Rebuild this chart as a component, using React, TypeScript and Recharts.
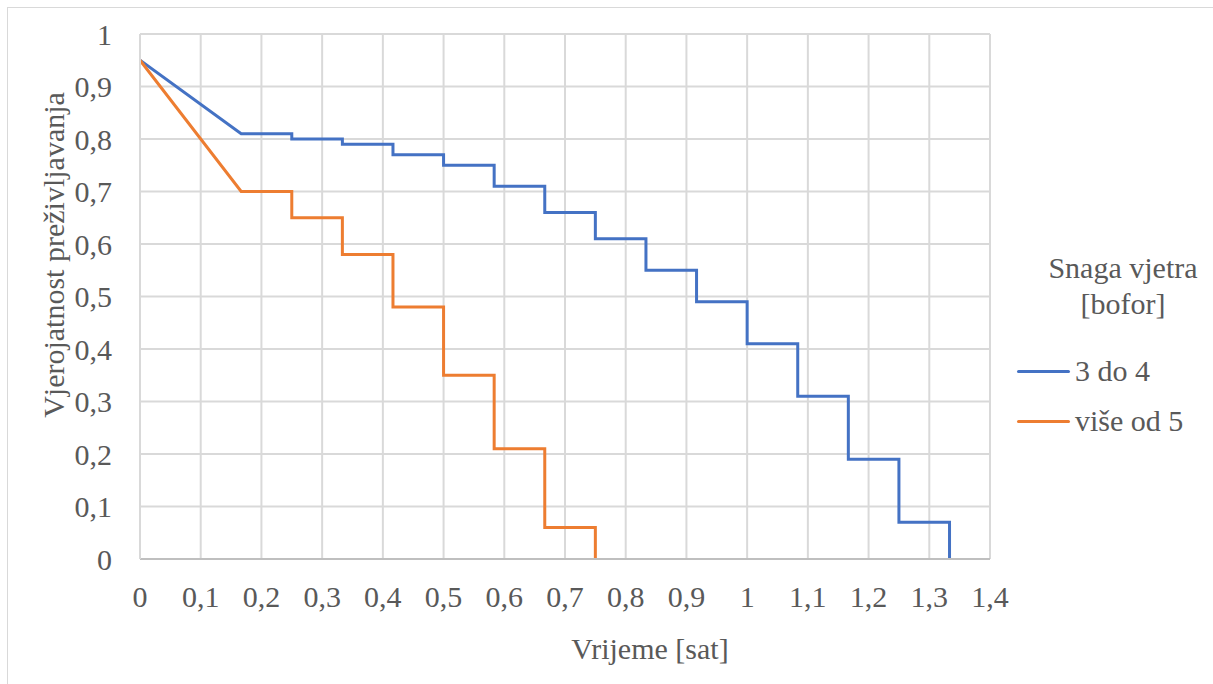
import React from 'react';
import { LineChart, Line, XAxis, YAxis, CartesianGrid, Label } from 'recharts';

// Step times (hours) and survival probabilities
const blueTimes = [0, 1 / 6, 0.25, 1 / 3, 5 / 12, 0.5, 7 / 12, 2 / 3, 0.75, 5 / 6, 11 / 12, 1, 13 / 12, 7 / 6, 1.25, 4 / 3];
const blueValues = [0.95, 0.81, 0.80, 0.79, 0.77, 0.75, 0.71, 0.66, 0.61, 0.55, 0.49, 0.41, 0.31, 0.19, 0.07, 0];
const orangeTimes = [0, 1 / 6, 0.25, 1 / 3, 5 / 12, 0.5, 7 / 12, 2 / 3, 0.75];
const orangeValues = [0.95, 0.70, 0.65, 0.58, 0.48, 0.35, 0.21, 0.06, 0];

const xTicks = [0, 0.1, 0.2, 0.3, 0.4, 0.5, 0.6, 0.7, 0.8, 0.9, 1, 1.1, 1.2, 1.3, 1.4];
const yTicks = [0, 0.1, 0.2, 0.3, 0.4, 0.5, 0.6, 0.7, 0.8, 0.9, 1];

const seriesNames = ['3 do 4', 'više od 5'];
const seriesColors = ['#4472C4', '#ED7D31'];
const legendTitle = ['Snaga vjetra', '[bofor]'];
const xTitle = 'Vrijeme [sat]';
const yTitle = 'Vjerojatnost preživljavanja';

// first segment linear, afterwards step-down at each time
function buildSteps(times: number[], values: number[]) {
  const pts: { x: number; y: number }[] = [
    { x: times[0], y: values[0] },
    { x: times[1], y: values[1] },
  ];
  for (let i = 2; i < times.length; i++) {
    pts.push({ x: times[i], y: values[i - 1] });
    pts.push({ x: times[i], y: values[i] });
  }
  return pts;
}

const blueData = buildSteps(blueTimes, blueValues);
const orangeData = buildSteps(orangeTimes, orangeValues);

const FONT = "Liberation Serif, Tinos, Times New Roman, DejaVu Serif, serif";
const TEXT = '#595959';
const fmt = (v: number) => String(v).replace('.', ',');

function LegendBox() {
  return (
    <div style={{ position: 'absolute', left: 1017, top: 250, width: 212, fontFamily: FONT, fontSize: 30, color: TEXT }}>
      <div style={{ textAlign: 'center', lineHeight: '36px' }}>
        {legendTitle.map((t) => (
          <div key={t}>{t}</div>
        ))}
      </div>
      <div style={{ marginTop: 24 }}>
        {seriesNames.map((n, i) => (
          <div key={n} style={{ display: 'flex', alignItems: 'center', height: 50 }}>
            <div style={{ width: 53, height: 3, background: seriesColors[i], borderRadius: 2, marginRight: 5 }} />
            <span style={{ whiteSpace: 'nowrap', lineHeight: '50px' }}>{n}</span>
          </div>
        ))}
      </div>
    </div>
  );
}

export default function App() {
  return (
    <div style={{ position: 'fixed', left: 0, top: 0, width: 1213, height: 684, background: '#fff', overflow: 'hidden', fontFamily: FONT }}>
      <div style={{ position: 'absolute', left: 7, top: 7, width: 1300, height: 800, borderLeft: '1.5px solid #d9d9d9', borderTop: '1.5px solid #d9d9d9' }} />
      <div style={{ position: 'absolute', left: 0, top: 0 }}>
        <LineChart width={1213} height={684} margin={{ top: 34, right: 223, bottom: 0, left: 0 }}>
          <CartesianGrid stroke="#d9d9d9" strokeWidth={2} vertical horizontal />
          <XAxis
            dataKey="x"
            type="number"
            domain={[0, 1.4]}
            ticks={xTicks}
            tickFormatter={fmt}
            height={125}
            tickLine={false}
            tickSize={0}
            tickMargin={27}
            axisLine={{ stroke: '#bfbfbf', strokeWidth: 2 }}
            tick={{ fill: TEXT, fontSize: 30, fontFamily: FONT }}
            interval={0}
            allowDataOverflow
          >
            <Label
              content={() => (
                <text x={650} y={659} textAnchor="middle" fill={TEXT} fontSize={30} fontFamily={FONT}>
                  {xTitle}
                </text>
              )}
            />
          </XAxis>
          <YAxis
            type="number"
            domain={[0, 1]}
            ticks={yTicks}
            tickFormatter={fmt}
            width={140}
            tickLine={false}
            tickSize={0}
            tickMargin={28}
            axisLine={{ stroke: '#d9d9d9', strokeWidth: 2 }}
            tick={{ fill: TEXT, fontSize: 30, fontFamily: FONT }}
            interval={0}
          >
            <Label
              content={() => (
                <text
                  x={64}
                  y={255}
                  transform="rotate(-90, 64, 255)"
                  textAnchor="middle"
                  fill={TEXT}
                  fontSize={30}
                  fontFamily={FONT}
                >
                  {yTitle}
                </text>
              )}
            />
          </YAxis>
          <Line
            data={blueData}
            dataKey="y"
            name={seriesNames[0]}
            type="linear"
            stroke={seriesColors[0]}
            strokeWidth={3}
            dot={false}
            activeDot={false}
            isAnimationActive={false}
          />
          <Line
            data={orangeData}
            dataKey="y"
            name={seriesNames[1]}
            type="linear"
            stroke={seriesColors[1]}
            strokeWidth={3}
            dot={false}
            activeDot={false}
            isAnimationActive={false}
          />
        </LineChart>
      </div>
      <LegendBox />
    </div>
  );
}
